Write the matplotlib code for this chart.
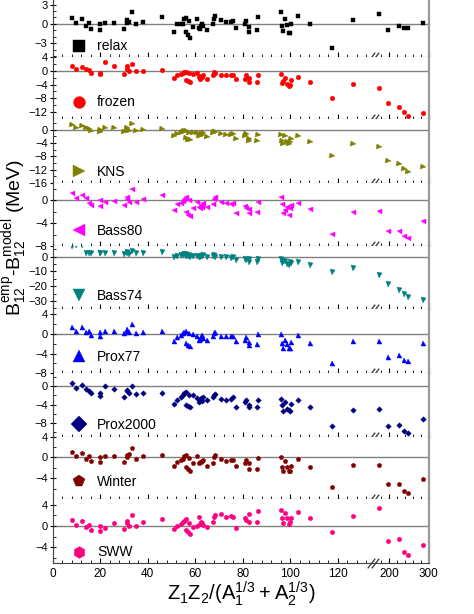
import numpy as np
import matplotlib
matplotlib.use('Agg')
import matplotlib.pyplot as plt
from matplotlib.ticker import FixedLocator, MultipleLocator

plt.rcParams['font.family'] = ['Liberation Sans', 'DejaVu Sans']
plt.rcParams['mathtext.default'] = 'regular'

# Z1Z2/(A1^1/3+A2^1/3) of the reactions (same for every model)
x = [8, 10, 12.5, 14, 15.5, 16, 20, 20, 22, 26, 30, 31.5, 31.5, 32, 33.5, 35, 38, 46,
     51, 52.5, 54, 55, 55.5, 56, 56, 57, 57.5, 58, 59, 61, 61.5, 62, 62.5, 63, 63.5, 65,
     67.5, 68, 68.5, 71, 73, 75, 76, 77, 81, 81.5, 82.5, 82.5, 86, 86.5, 96, 96.5, 97,
     98, 98.5, 99.5, 100, 100.5, 103.5, 108.5, 117.5, 126.5, 175, 197, 225, 237.5, 249, 287]

# B_emp - B_model (MeV)
relax = [0.9, 0.1, 0.8, -0.3, 0.1, -0.8, -0.1, -1.0, 0.1, 0.15, -0.8, 0.6, 0.2, 0.3, 1.9, -0.1,
         0.3, 1.0, -1.2, 0.0, 0.0, 0.0, 0.7, -1.3, 0.9, -1.8, 0.5, -2.2, -0.5, 0.8, -0.6, -0.8,
         -0.4, 0.0, -0.3, -1.0, -0.1, 0.7, 1.2, 0.6, 0.3, 0.3, 0.4, -0.7, -0.1, 0.4, -1.2, -0.5,
         -1.0, 1.1, 1.8, -0.3, -1.1, 0.8, -0.2, -1.4, -1.4, -0.1, 1.2, 0.0, -3.8, 0.6,
         1.6, -1.0, -0.3, -0.7, -0.6, 0.1]
frozen = [1.4, 0.4, 1.1, 0.4, 0.1, -0.6, -0.6, -1.0, 2.5, 1.2, -0.9, 1.4, 0.5, -0.1, 1.8, -0.2,
          0.0, 0.3, -2.1, -1.3, -1.0, -0.6, -0.5, -2.6, -0.3, -3.0, -0.8, -3.4, -1.0, -0.8, -1.9,
          -2.3, -1.5, -1.8, -1.2, -2.4, -1.3, -0.4, -0.7, -1.2, -1.4, -1.4, -1.3, -2.4, -2.4,
          -1.4, -3.3, -2.0, -3.3, -1.4, -1.0, -3.5, -3.1, -2.1, -3.9, -4.3, -4.1, -2.8, -1.9,
          -3.3, -7.9, -3.9, -5.0, -9.2, -10.4, -11.9, -13.0, -12.2]
kns = [1.3, 0.6, 1.1, 0.5, 0.1, -0.4, -0.1, -0.8, 0.5, 0.4, -0.8, 0.5, 0.1, -0.3, 1.7, -0.4,
       0.0, 0.3, -2.0, -1.4, -1.0, -0.7, -0.5, -2.5, -0.3, -3.0, -0.9, -3.2, -1.1, -1.0, -1.8,
       -2.0, -1.4, -1.6, -1.1, -2.2, -1.1, -0.6, -0.8, -1.4, -1.5, -1.5, -1.3, -2.8, -2.0,
       -1.4, -3.5, -2.8, -3.4, -1.5, -1.6, -3.4, -4.2, -2.0, -3.8, -4.4, -3.8, -2.8, -2.0,
       -3.6, -8.0, -4.2, -5.3, -9.5, -10.3, -11.8, -12.8, -11.3]
bass80 = [1.2, 0.35, 1.0, 0.35, -0.5, -0.75, 0.05, -1.0, -0.3, -0.1, -0.8, 0.6, 0.2, -0.3, 1.9,
          -0.35, 0.2, 0.9, -1.7, -0.7, -0.5, -0.2, 0.3, -2.0, 0.5, -2.5, 0.0, -2.7, -1.4, -0.3,
          -1.1, -1.3, -0.8, -1.1, -0.5, -1.2, -0.6, 0.3, 0.5, -0.3, -0.4, -0.6, -0.5, -2.2,
          -1.0, -1.3, -2.2, -1.6, -2.1, -0.3, 0.5, -0.6, -2.3, -1.7, -1.2, -2.6, -1.4, -0.8,
          -0.5, -1.6, -5.9, -2.1, -1.9, -5.3, -5.4, -6.2, -6.6, -3.6]
bass74 = [7.0, 8.0, 8.0, 2.5, 2.5, 2.5, 2.5, 2.5, 2.5, 2.5, 1.8, 2.9, 2.5, 2.0, 4.1, 2.5, 2.5,
          2.9, 0.0, 0.3, 0.8, 1.2, 1.5, 0.5, 1.8, 0.2, 1.2, -0.5, 0.6, 0.4, -0.4, 0.0, 0.7, 0.2,
          1.0, -0.5, 0.5, 1.0, -0.2, -0.2, -0.5, -0.7, -0.5, -2.5, -1.6, -2.0, -3.4, -1.6,
          -3.4, -1.6, -1.4, -4.5, -3.2, -3.0, -5.0, -5.9, -3.8, -4.5, -3.4, -5.6, -10.6, -7.9,
          -12.4, -18.7, -22.3, -25.3, -27.3, -29.1]
prox77 = [1.4, 0.65, 1.35, 0.3, 0.65, -0.3, 0.25, -0.55, 0.65, 0.65, 0.1, 0.65, 0.9, 0.4, 2.0,
          0.05, 0.4, 0.65, -1.5, -0.7, -0.2, 0.1, 0.45, -1.9, 0.65, -2.3, 0.2, -2.5, 0.0, -0.5,
          -1.2, -1.1, -0.7, -0.2, -0.9, -1.2, -0.5, 0.1, 0.4, -0.4, -0.5, -0.5, -0.4, -1.5,
          -1.3, -0.7, -2.2, -1.6, -2.1, -0.1, 0.0, -1.9, -2.8, -1.2, -2.0, -2.9, -2.8, -1.6,
          -0.3, -1.9, -5.9, -1.5, -1.4, -4.7, -4.4, -5.3, -5.6, -1.9]
prox2000 = [0.75, -0.3, 0.3, -0.5, -1.0, -1.55, -1.4, -2.15, 0.15, -0.5, -2.3, -1.1, -0.8, -1.4,
            0.2, -1.7, -1.4, -1.4, -3.8, -2.9, -2.3, -1.9, -1.4, -4.1, -1.2, -4.3, -2.0, -4.5,
            -1.9, -2.6, -3.4, -3.0, -2.6, -3.2, -2.4, -2.9, -2.3, -1.85, -1.7, -2.7, -2.9, -2.8,
            -2.4, -4.5, -3.5, -3.0, -4.5, -4.1, -4.5, -2.9, -2.7, -4.2, -5.5, -3.5, -5.0, -5.3,
            -5.5, -3.9, -3.1, -4.6, -8.7, -5.1, -4.9, -8.7, -8.6, -9.8, -10.3, -7.2]
winter = [1.0, 0.25, 0.9, -0.25, 0.25, -0.7, 0.0, -0.95, 0.25, 0.25, -0.8, 0.5, 0.05, 0.7, 1.75,
          -0.2, 0.25, 0.55, -1.7, -0.8, -0.5, -0.2, 0.3, -1.8, 0.5, -2.2, -0.1, -2.6, -1.0, 0.25,
          -1.1, -0.8, -0.9, -0.7, -0.4, -1.6, -1.1, 0.0, 0.4, -0.3, -0.6, -0.5, -0.4, -1.6,
          -1.1, -0.55, -2.2, -1.1, -2.2, -0.1, 0.0, -1.75, -2.7, -0.6, -1.75, -2.7, -2.7, -1.55,
          -0.3, -1.9, -5.75, -1.5, -1.4, -5.2, -5.2, -6.4, -6.9, -4.1]
sww = [1.1, 0.3, 1.0, -0.1, 0.2, -0.7, 0.0, -0.95, -0.3, 0.5, -0.5, 0.95, 0.5, 0.05, 2.1, 0.05,
       0.7, 1.3, -0.6, 0.05, 0.45, 0.8, 1.05, -0.8, 1.3, -1.2, 0.6, -1.55, -0.25, 0.05, 1.7,
       0.45, 0.8, 0.55, 0.3, -0.2, 0.7, 1.7, 2.0, 2.25, 1.8, 1.95, 1.8, -0.45, 1.45, 1.2, 2.2,
       0.7, 0.7, 2.75, 3.0, 1.5, 0.5, 2.55, 1.5, 0.4, 0.75, 1.5, 2.6, 1.5, -1.2, 1.9, 3.4,
       -2.8, -2.4, -4.8, -5.4, -3.6]

names = ['relax', 'frozen', 'KNS', 'Bass80', 'Bass74', 'Prox77', 'Prox2000', 'Winter', 'SWW']
series = [relax, frozen, kns, bass80, bass74, prox77, prox2000, winter, sww]

# styles
colors = ['black', '#ff0000', '#808000', '#ff00ff', '#008080', '#0000ff', '#000080', '#800000', '#ff0080']
markers = ['s', 'o', '>', '<', 'v', '^', 'D', 'p', 'h']
msizes = [2.9, 3.3, 3.6, 3.6, 3.6, 3.6, 2.8, 3.5, 3.5]
ylims = [(-5.1, 3.7), (-14, 4), (-16, 3.1), (-8, 3), (-35.4, 7), (-8, 5), (-11.1, 2.9), (-8, 4), (-7, 5.1)]
yticks = [[-3, 0, 3], [-12, -8, -4, 0, 4], [-16, -12, -8, -4, 0], [-8, -4, 0], [-30, -20, -10, 0],
          [-8, -4, 0, 4], [-8, -4, 0], [-4, 0, 4], [-4, 0, 4]]
yminor = [1, 2, 2, 2, 5, 2, 2, 2, 2]
leg_y = [0.18, 0.27, 0.18, 0.24, 0.21, 0.25, 0.18, 0.28, 0.17]
leg_ms = 8.5

# panel edges in pixels (from top)
edges = [0, 56.7, 119.3, 183, 246.3, 309, 373.3, 436.7, 499, 563.3]
W, H = 474, 614
x0, x1 = 52.5, 428.5

# broken x axis: 0-134 and 164-300 (right part compressed)
ratio = 0.1662
bx = [-1000, 134, 164, 1000]
bf = [-1000, 134, 135.6, 135.6 + (1000 - 164) * ratio]


def fwd(v):
    return np.interp(v, bx, bf)


def inv(v):
    return np.interp(v, bf, bx)


fig = plt.figure(figsize=(W / 100, H / 100), dpi=100)

axes = []
for i in range(9):
    top, bot = edges[i], edges[i + 1]
    rect = [x0 / W, 1 - bot / H, (x1 - x0) / W, (bot - top) / H]
    ax = fig.add_axes(rect, sharex=axes[0] if axes else None)
    ax.set_xscale('function', functions=(fwd, inv))
    ax.plot(x, series[i], ls='none', marker=markers[i], ms=msizes[i], color=colors[i],
            mec=colors[i], mew=0.3, label=names[i], zorder=3)
    ax.axhline(0, color='#808080', lw=1, zorder=1)
    ax.set_ylim(*ylims[i])
    ax.yaxis.set_major_locator(FixedLocator(yticks[i]))
    ax.yaxis.set_minor_locator(MultipleLocator(yminor[i]))
    ax.tick_params(axis='y', which='major', direction='inout', length=4, width=0.8, labelsize=8, pad=1.5)
    ax.tick_params(axis='y', which='minor', direction='in', length=2, width=0.6)
    ax.tick_params(axis='x', which='major', direction='in', length=3.5, width=0.8, labelsize=8.5)
    ax.tick_params(axis='x', which='minor', direction='in', length=2, width=0.6)
    ax.spines['top'].set_visible(False)
    ax.spines['right'].set_color('#999999')
    ax.spines['right'].set_linewidth(1.6)
    ax.spines['left'].set_color('#444444')
    ax.spines['bottom'].set_color('#444444')
    if i < 8:
        ax.tick_params(labelbottom=False)
    ax.legend(loc='center left', bbox_to_anchor=(0.052, leg_y[i]), frameon=False,
              markerscale=leg_ms / msizes[i], fontsize=10, handlelength=1.0, handletextpad=0.8,
              borderpad=0, borderaxespad=0)
    # break marks on the bottom axis
    ax.plot([134, 164], [0, 0], transform=ax.get_xaxis_transform(), ls='none',
            marker=[(-1, -1.3), (1, 1.3)], ms=7, mew=0.9, color='#333333', clip_on=False, zorder=5)
    axes.append(ax)

axes[0].set_xlim(0, 300)
axes[0].xaxis.set_major_locator(FixedLocator([0, 20, 40, 60, 80, 100, 120, 200, 300]))
minor = [v for v in range(4, 134, 4) if v % 20] + [180, 220, 240, 260, 280]
axes[0].xaxis.set_minor_locator(FixedLocator(minor))

fig.text(241 / W, 1 - 594 / H, r'$Z_1Z_2/(A_1^{1/3}+A_2^{1/3})$', ha='center', va='center', fontsize=14.5)
fig.text(15 / W, 1 - 238 / H, r'$B_{12}^{emp}$-$B_{12}^{model}$ (MeV)', ha='center', va='center',
         rotation=90, fontsize=14)

fig.savefig('out.png', dpi=100)
